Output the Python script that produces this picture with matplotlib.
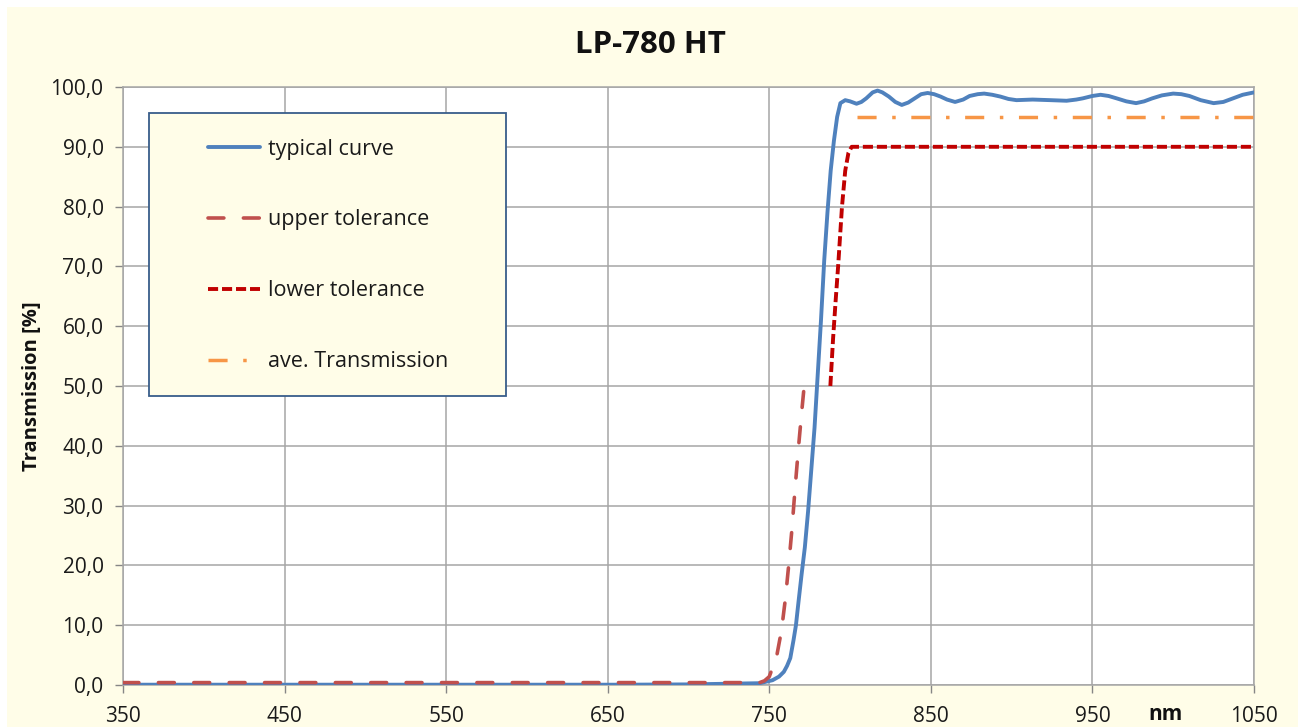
import matplotlib
matplotlib.use("Agg")
import matplotlib.pyplot as plt
from matplotlib.patches import Rectangle
from matplotlib.ticker import FixedLocator, FuncFormatter

plt.rcParams['font.family'] = ['Open Sans', 'DejaVu Sans']

# ---- data ----
typical_nm = [350, 380, 420, 460, 500, 540, 580, 620, 660, 700, 744, 752, 756, 759, 761, 763,
              765, 766.5, 768, 770, 772, 774, 776, 778, 780, 782, 784, 786, 788, 790, 792, 794,
              797, 800, 804, 807, 810, 814, 817, 820, 824, 828, 832, 836, 840, 844, 848, 852,
              856, 860, 865, 870, 874, 879, 883, 888, 893, 898, 903, 913, 924, 934, 940, 944,
              950, 955, 960, 965, 971, 977, 982, 987, 993, 1000, 1005, 1010, 1017, 1025, 1031,
              1037, 1043, 1050]
typical_T = [0.05, 0.05, 0.05, 0.05, 0.05, 0.05, 0.05, 0.05, 0.05, 0.1, 0.3, 0.8, 1.4, 2.2, 3.2, 4.5,
             7.5, 10.0, 13.7, 18.5, 23.0, 29.0, 36.0, 43.0, 52.0, 61.0, 71.0, 79.0, 86.0, 91.0, 95.0, 97.3,
             97.8, 97.6, 97.2, 97.5, 98.1, 99.1, 99.4, 99.1, 98.4, 97.5, 97.0, 97.4, 98.1, 98.8, 99.0, 98.8,
             98.4, 97.9, 97.5, 97.9, 98.5, 98.8, 98.9, 98.7, 98.4, 98.0, 97.8, 97.9, 97.8, 97.7, 97.9, 98.1,
             98.5, 98.7, 98.5, 98.1, 97.6, 97.3, 97.6, 98.1, 98.6, 98.9, 98.8, 98.5, 97.8, 97.3, 97.5,
             98.1, 98.7, 99.1]

upper_nm = [350, 744, 747, 750, 754.5, 757.6, 760, 762, 764, 766, 768, 770, 771.6]
upper_T = [0.4, 0.4, 0.7, 1.4, 4.7, 9.2, 14.5, 20.0, 26.0, 33.0, 39.5, 45.5, 50.0]

lower_nm = [787.8, 789.5, 791, 792.6, 795, 797, 799, 801, 1050]
lower_T = [50.0, 58.0, 64.0, 70.0, 80.0, 86.0, 89.0, 90.0, 90.0]

ave_nm = [804, 1050]
ave_T = [95.0, 95.0]

series_labels = ["typical curve", "upper tolerance", "lower tolerance", "ave. Transmission"]
x_ticks = [350, 450, 550, 650, 750, 850, 950, 1050]
y_ticks = [0, 10, 20, 30, 40, 50, 60, 70, 80, 90, 100]
title = "LP-780 HT"
y_label = "Transmission [%]"
x_unit = "nm"

# ---- figure ----
W, H = 1298, 727
fig = plt.figure(figsize=(W / 100, H / 100), dpi=100, facecolor="white")
fig.patches.append(Rectangle((7 / W, 0), 1 - 7 / W, 1 - 7 / H, transform=fig.transFigure,
                             facecolor="#FFFDE8", edgecolor="none", zorder=-10))

ax_l, ax_r, ax_t, ax_b = 123, 1254, 87, 685
ax = fig.add_axes([ax_l / W, 1 - ax_b / H, (ax_r - ax_l) / W, (ax_b - ax_t) / H])
ax.set_facecolor("white")

ax.plot(typical_nm, typical_T, color="#4F81BD", lw=2.8, solid_capstyle="round",
        solid_joinstyle="round", label=series_labels[0], zorder=3)
ax.plot(upper_nm, upper_T, color="#C0504D", lw=2.6, linestyle=(0, (4.4, 5.4)),
        dash_capstyle="round", label=series_labels[1], zorder=4)
ax.plot(lower_nm, lower_T, color="#C00000", lw=2.8, linestyle=(0, (2.6, 1.0)),
        label=series_labels[2], zorder=4)
ax.plot(ave_nm, ave_T, color="#F79646", lw=2.5, linestyle=(0, (5.5, 4.5, 1, 4.5)),
        label=series_labels[3], zorder=4)

ax.set_xlim(350, 1050)
ax.set_ylim(0, 100)
ax.xaxis.set_major_locator(FixedLocator(x_ticks))
ax.yaxis.set_major_locator(FixedLocator(y_ticks))
ax.yaxis.set_major_formatter(FuncFormatter(lambda v, p: f"{v:.1f}".replace(".", ",")))
ax.xaxis.set_major_formatter(FuncFormatter(lambda v, p: f"{int(v)}"))

grid_c = "#A6A6A6"
ax.grid(True, color=grid_c, lw=1.1, zorder=0)
ax.set_axisbelow(True)
for s in ax.spines.values():
    s.set_color(grid_c)
    s.set_linewidth(1.1)
ax.tick_params(axis="both", which="major", direction="out", length=5.5, width=1.0,
               color="#868686", labelsize=15, labelcolor="#1a1a1a")
ax.tick_params(axis="x", pad=9.3)
ax.tick_params(axis="y", pad=8.5)

fig.text(650 / W, 1 - 45 / H, title, ha="center", va="center", fontsize=22.5,
         fontweight="bold", color="#111111")
fig.text(32 / W, 1 - 386 / H, y_label, ha="center", va="center", rotation=90,
         fontsize=14.5, fontweight="bold", color="#111111")
fig.text(1165 / W, 1 - 715 / H, x_unit, ha="center", va="center", fontsize=15,
         fontweight="bold", color="#111111")

# legend box
lx0, lx1, ly0, ly1 = 149, 506, 113, 396
def to_ax(px, py):
    return (px - ax_l) / (ax_r - ax_l), (ax_b - py) / (ax_b - ax_t)
bx0, by0 = to_ax(lx0, ly1)
bx1, by1 = to_ax(lx1, ly0)
ax.add_patch(Rectangle((bx0, by0), bx1 - bx0, by1 - by0, transform=ax.transAxes,
                       facecolor="#FFFDE8", edgecolor="#385D8A", lw=1.3, zorder=5))
ancx, ancy = to_ax(208, 138.5)
leg = ax.legend(loc="upper left", bbox_to_anchor=(ancx, ancy), frameon=False,
                borderpad=0, borderaxespad=0, handlelength=2.4, handletextpad=0.37,
                labelspacing=2.32, fontsize=15.5)
leg.set_zorder(6)
for t in leg.get_texts():
    t.set_color("#1a1a1a")

fig.savefig("out.png", dpi=100, facecolor=fig.get_facecolor())
